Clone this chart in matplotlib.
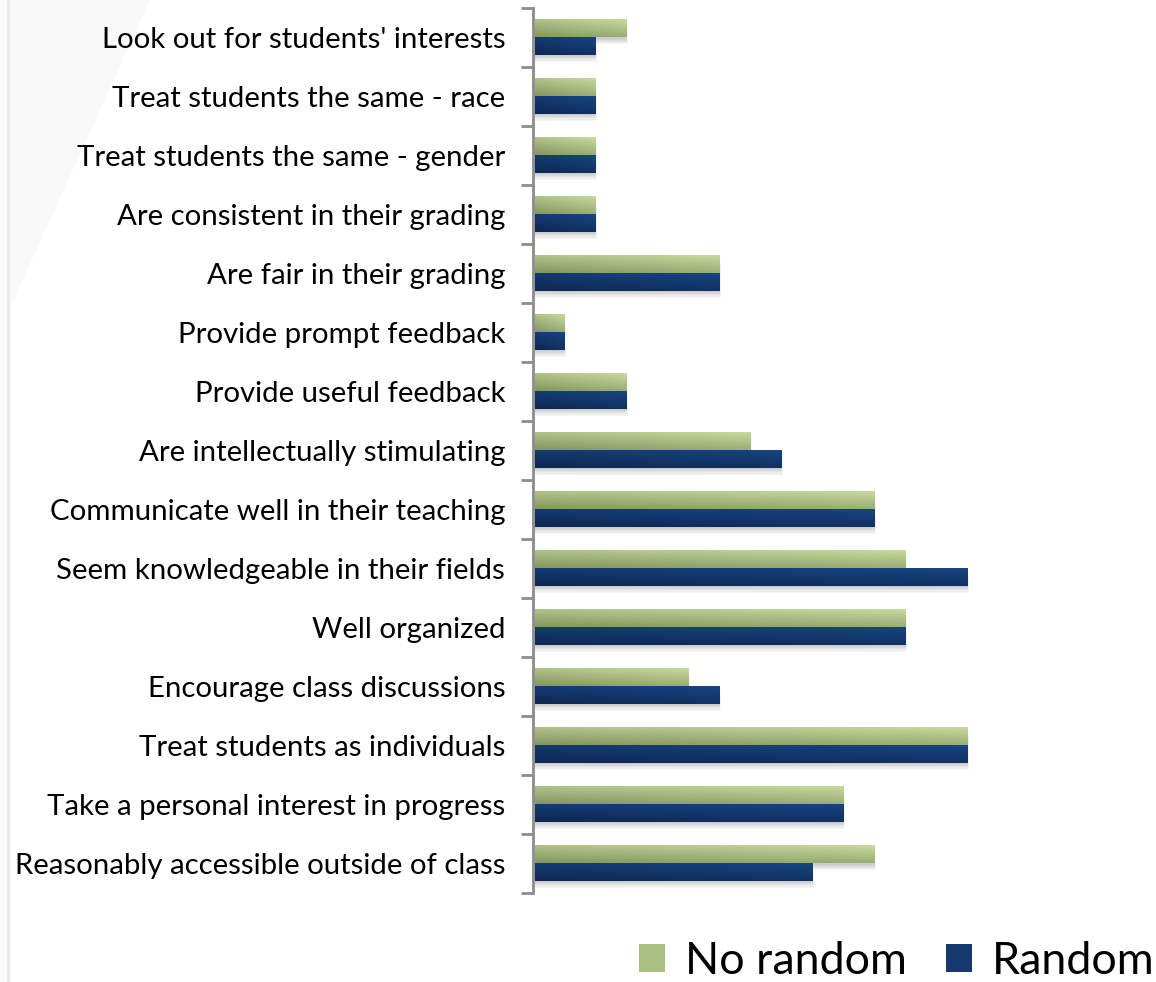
import numpy as np
import matplotlib.pyplot as plt
from matplotlib.patches import Rectangle, Polygon

categories = [
    "Look out for students' interests",
    "Treat students the same - race",
    "Treat students the same - gender",
    "Are consistent in their grading",
    "Are fair in their grading",
    "Provide prompt feedback",
    "Provide useful feedback",
    "Are intellectually stimulating",
    "Communicate well in their teaching",
    "Seem knowledgeable in their fields",
    "Well organized",
    "Encourage class discussions",
    "Treat students as individuals",
    "Take a personal interest in progress",
    "Reasonably accessible outside of class",
]
no_random = [3, 2, 2, 2, 6, 1, 3, 7, 11, 12, 12, 5, 14, 10, 11]
random_ = [2, 2, 2, 2, 6, 1, 3, 8, 11, 14, 12, 6, 14, 10, 9]

plt.rcParams['font.family'] = ['Lato', 'DejaVu Sans']

W, H = 1156, 982
fig = plt.figure(figsize=(W / 100, H / 100), dpi=100)

# faint backdrop on the left edge
bg = fig.add_axes([0, 0, 1, 1], zorder=-5)
bg.set_xlim(0, W)
bg.set_ylim(H, 0)
bg.axis('off')
bg.add_patch(Polygon([(0, 0), (150, 0), (0, 330)], closed=True,
                     facecolor='#f9f9f9', edgecolor='none'))
bg.add_patch(Rectangle((0, 0), 8, H, facecolor='#fbfbfb', edgecolor='none'))
bg.plot([8, 8], [0, H], color='#e8e8e8', lw=2)

x0_px, unit_px = 533, 31
ax = fig.add_axes([x0_px / W, 1 - 893 / H, 620 / W, (893 - 8) / H])
ax.patch.set_alpha(0)

n = len(categories)
bar_h = 0.3


def gradient(c_dark, c_light, nx=64, ny=16):
    # diagonal shading: dark at bottom-left, light at top-right
    xs = np.linspace(0, 1, nx)
    ys = np.linspace(0, 1, ny)[:, None]
    t = np.clip(0.35 * xs[None, :] + 0.65 * (1 - ys), 0, 1)
    a = np.array(c_dark)[None, None, :]
    b = np.array(c_light)[None, None, :]
    return a + (b - a) * t[..., None]


def rgb(h):
    h = h.lstrip('#')
    return [int(h[i:i + 2], 16) / 255 for i in (0, 2, 4)]


green_img = gradient(rgb('#849763'), rgb('#c6da9c'))
blue_img = gradient(rgb('#0e2852'), rgb('#174482'))

for i in range(n):
    y = n - 1 - i
    vals = [(no_random[i], y + bar_h / 2, green_img),
            (random_[i], y - bar_h / 2, blue_img)]
    # soft drop shadow under each bar
    for k in range(6):
        d = 0.018 * (k + 1)
        for v, yc, _ in vals:
            ax.add_patch(Rectangle((0, yc - bar_h / 2 - d), v + d * 0.5, bar_h,
                                   facecolor='#000000', alpha=0.035,
                                   edgecolor='none', zorder=1))
    for v, yc, img in vals:
        ax.imshow(img, extent=(0.05, v, yc - bar_h / 2, yc + bar_h / 2),
                  aspect='auto', origin='upper', interpolation='bicubic',
                  zorder=2)

ax.set_xlim(0, 620 / unit_px)
ax.set_ylim(-0.5, n - 0.5)

for s in ['top', 'right', 'bottom']:
    ax.spines[s].set_visible(False)
ax.spines['left'].set_color('#8c8c8c')
ax.spines['left'].set_linewidth(2)
ax.set_xticks([])

ax.set_yticks(np.arange(-0.5, n, 1.0))
ax.set_yticklabels([])
ax.tick_params(axis='y', which='major', length=9, width=2, color='#8c8c8c')
ax.set_yticks(np.arange(n), minor=True)
ax.set_yticklabels(categories[::-1], minor=True, fontsize=21.2, color='black')
ax.tick_params(axis='y', which='minor', length=0, pad=20)

handles = [Rectangle((0, 0), 1, 1, facecolor='#a9bf82', edgecolor='none'),
           Rectangle((0, 0), 1, 1, facecolor='#163a70', edgecolor='none')]
fig.legend(handles, ['No random', 'Random'], loc='lower right',
           bbox_to_anchor=(1.034, -0.041), ncol=2, frameon=False,
           fontsize=32.3, handlelength=0.58, handleheight=0.58,
           handletextpad=0.45, columnspacing=0.88)

fig.savefig('out.png', dpi=100)
